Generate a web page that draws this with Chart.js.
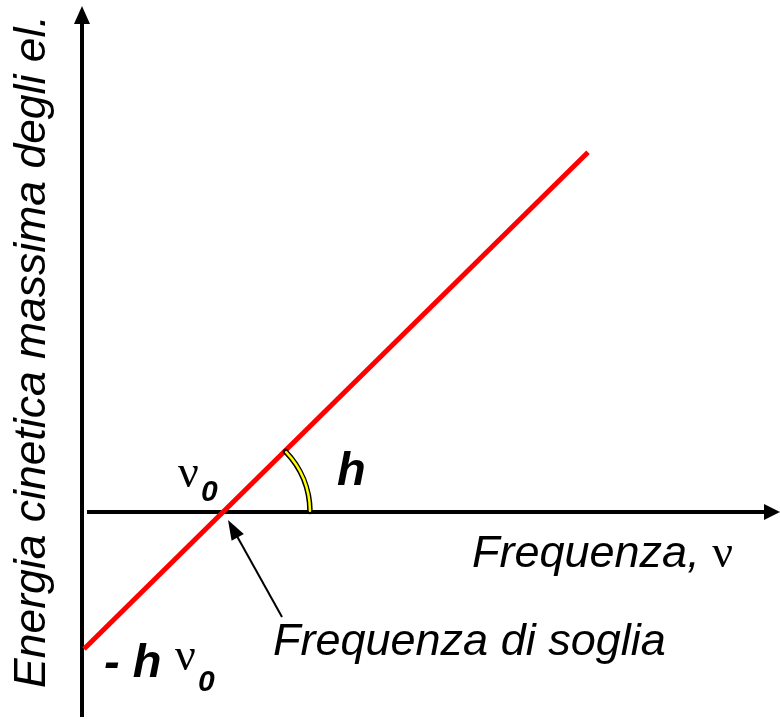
<!DOCTYPE html>
<html>
<head>
<meta charset="utf-8">
<script src="https://cdn.jsdelivr.net/npm/chart.js@4.4.1/dist/chart.umd.min.js"></script>
<style>
html,body{margin:0;padding:0;background:#fff;}
#wrap{width:780px;height:719px;position:relative;}
</style>
</head>
<body>
<div id="wrap"><canvas id="c"></canvas></div>
<script>
// Data: photoelectric effect, E_k = h*nu - h*nu0 (arbitrary units, h = 1, nu0 = 1)
const frequency = [0, 3.626];
const energy = [-1, 2.626];
const nu0 = 1;
const xRange = [-0.6043, 5.0072];
const yRange = [-1.511, 3.737];
const yAxisTitle = 'Energia cinetica massima degli el.';
const xAxisTitle = 'Frequenza, ';
const thresholdLabel = 'Frequenza di soglia';

const points = frequency.map((f, i) => ({x: f, y: energy[i]}));

const sans = '"Liberation Sans", Arial, sans-serif';
const serif = '"Liberation Serif", "Times New Roman", serif';

const diagram = {
  id: 'diagram',
  beforeDatasetsDraw(chart) {
    const ctx = chart.ctx;
    const xs = chart.scales.x, ys = chart.scales.y;
    const x0 = xs.getPixelForValue(0) - 2;
    const y0 = ys.getPixelForValue(0);
    ctx.save();
    ctx.fillStyle = '#000';
    ctx.strokeStyle = '#000';
    ctx.lineWidth = 4;
    // y axis
    ctx.beginPath();
    ctx.moveTo(x0, 717); ctx.lineTo(x0, 22); ctx.stroke();
    ctx.beginPath();
    ctx.moveTo(x0, 6); ctx.lineTo(x0 - 8, 24); ctx.lineTo(x0 + 8, 24); ctx.closePath(); ctx.fill();
    // x axis
    ctx.beginPath();
    ctx.moveTo(x0 + 5, y0); ctx.lineTo(768, y0); ctx.stroke();
    ctx.beginPath();
    ctx.moveTo(780, y0); ctx.lineTo(764, y0 - 8); ctx.lineTo(764, y0 + 8); ctx.closePath(); ctx.fill();
    ctx.restore();
  },
  afterDatasetsDraw(chart) {
    const ctx = chart.ctx;
    const xs = chart.scales.x, ys = chart.scales.y;
    const cx = xs.getPixelForValue(nu0);
    const cy = ys.getPixelForValue(0);
    const px1 = xs.getPixelForValue(frequency[1]), py1 = ys.getPixelForValue(energy[1]);
    const ang = Math.atan2(py1 - cy, px1 - cx);
    ctx.save();
    // angle arc
    const r = 87;
    ctx.lineCap = 'round';
    ctx.strokeStyle = '#000'; ctx.lineWidth = 5.5;
    ctx.beginPath(); ctx.arc(cx, cy, r, ang + 0.01, -0.005); ctx.stroke();
    ctx.strokeStyle = '#ffff00'; ctx.lineWidth = 2.5;
    ctx.beginPath(); ctx.arc(cx, cy, r, ang + 0.02, -0.015); ctx.stroke();

    // pointer arrow
    const tx = cx + 5, ty = cy + 8, sx = 282, sy = 617;
    const a = Math.atan2(ty - sy, tx - sx);
    ctx.strokeStyle = '#000'; ctx.fillStyle = '#000'; ctx.lineWidth = 2; ctx.lineCap = 'butt';
    ctx.beginPath(); ctx.moveTo(sx, sy); ctx.lineTo(tx - 14 * Math.cos(a), ty - 14 * Math.sin(a)); ctx.stroke();
    ctx.beginPath();
    ctx.moveTo(tx, ty);
    ctx.lineTo(tx - 20 * Math.cos(a) + 7 * Math.sin(a), ty - 20 * Math.sin(a) - 7 * Math.cos(a));
    ctx.lineTo(tx - 20 * Math.cos(a) - 7 * Math.sin(a), ty - 20 * Math.sin(a) + 7 * Math.cos(a));
    ctx.closePath(); ctx.fill();

    // texts
    ctx.fillStyle = '#000';
    ctx.textBaseline = 'alphabetic';
    ctx.textAlign = 'left';
    // y axis title
    ctx.save();
    ctx.translate(45, 688);
    ctx.rotate(-Math.PI / 2);
    ctx.font = 'italic 44.5px ' + sans;
    ctx.fillText(yAxisTitle, 0, 0);
    ctx.restore();
    // x axis title
    ctx.font = 'italic 45px ' + sans;
    ctx.fillText(xAxisTitle, 472, 567);
    const w = ctx.measureText(xAxisTitle).width;
    ctx.font = '46px ' + serif;
    ctx.fillText('ν', 472 + w, 567);
    // threshold label
    ctx.font = 'italic 45px ' + sans;
    ctx.fillText(thresholdLabel, 273, 655);
    // nu0 label
    ctx.font = '46px ' + serif;
    ctx.fillText('ν', 178, 487);
    ctx.font = 'italic bold 30px ' + sans;
    ctx.fillText('0', 201, 501);
    // slope h
    ctx.font = 'italic bold 47px ' + sans;
    ctx.fillText('h', 337, 485);
    // intercept -h nu0
    ctx.font = 'italic bold 47px ' + sans;
    ctx.fillText('- h', 104, 677);
    ctx.font = '46px ' + serif;
    ctx.fillText('ν', 175, 670);
    ctx.font = 'italic bold 30px ' + sans;
    ctx.fillText('0', 198, 691);
    ctx.restore();
  }
};

new Chart(document.getElementById('c'), {
  type: 'scatter',
  data: {
    datasets: [{
      data: points,
      showLine: true,
      borderColor: '#ff0000',
      backgroundColor: '#ff0000',
      borderWidth: 5,
      pointRadius: 0,
      pointHoverRadius: 0,
      borderCapStyle: 'butt'
    }]
  },
  options: {
    responsive: true,
    maintainAspectRatio: false,
    animation: false,
    events: [],
    layout: {padding: 0},
    plugins: {legend: {display: false}, tooltip: {enabled: false}, title: {display: false}},
    scales: {
      x: {type: 'linear', min: xRange[0], max: xRange[1], display: false},
      y: {type: 'linear', min: yRange[0], max: yRange[1], display: false}
    }
  },
  plugins: [diagram]
});
</script>
</body>
</html>
